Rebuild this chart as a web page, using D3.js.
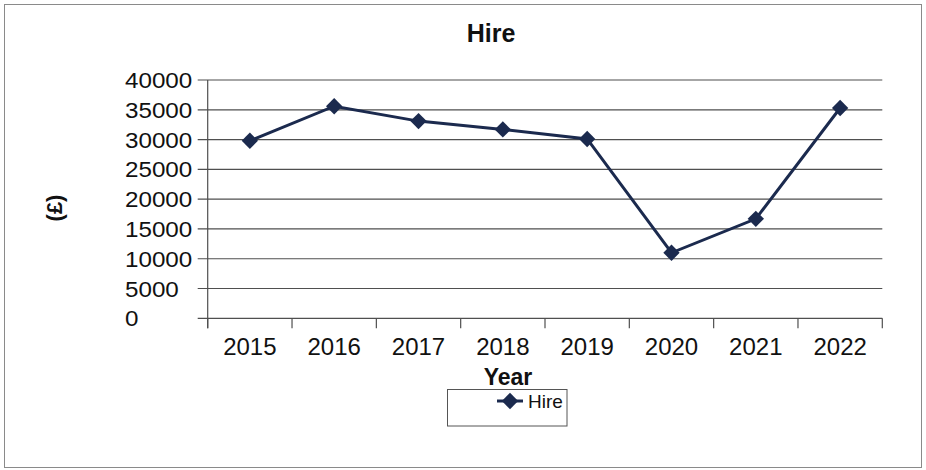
<!DOCTYPE html>
<html>
<head>
<meta charset="utf-8">
<script src="https://cdn.jsdelivr.net/npm/d3@7"></script>
<style>
  html, body { margin: 0; padding: 0; background: #fff; }
  svg { display: block; }
  text { font-family: "Liberation Sans", Arial, sans-serif; fill: #111; }
</style>
</head>
<body>
<svg id="chart" width="926" height="470"></svg>
<script>
// Yearly hire income
const years = ["2015", "2016", "2017", "2018", "2019", "2020", "2021", "2022"];
const hire = [29800, 35600, 33100, 31700, 30100, 11000, 16700, 35300];
const yTicks = [0, 5000, 10000, 15000, 20000, 25000, 30000, 35000, 40000];

const svg = d3.select("#chart");
const plot = { left: 207.7, right: 882.3, top: 80, bottom: 318.3 };

// outer frame
svg.append("rect")
  .attr("x", 4.5).attr("y", 4.5)
  .attr("width", 917).attr("height", 463)
  .attr("fill", "#fff").attr("stroke", "#8a8a8a").attr("stroke-width", 1);

const x = d3.scaleBand().domain(years).range([plot.left, plot.right]);
const y = d3.scaleLinear().domain([0, 40000]).range([plot.bottom, plot.top]);

// horizontal gridlines with short ticks to the left
svg.append("g").selectAll("line")
  .data(yTicks)
  .join("line")
  .attr("x1", plot.left - 10).attr("x2", plot.right)
  .attr("y1", d => y(d)).attr("y2", d => y(d))
  .attr("stroke", "#4f4f4f").attr("stroke-width", 1.2);

// y axis line
svg.append("line")
  .attr("x1", plot.left).attr("x2", plot.left)
  .attr("y1", plot.top).attr("y2", plot.bottom + 10)
  .attr("stroke", "#4f4f4f").attr("stroke-width", 1.2);

// x axis category boundary ticks
const edges = years.map(d => x(d)).concat([x(years[years.length - 1]) + x.bandwidth()]);
svg.append("g").selectAll("line")
  .data(edges)
  .join("line")
  .attr("x1", d => d).attr("x2", d => d)
  .attr("y1", plot.bottom).attr("y2", plot.bottom + 10)
  .attr("stroke", "#4f4f4f").attr("stroke-width", 1.2);

// y tick labels (left aligned, slightly wide glyphs)
svg.append("g").selectAll("text")
  .data(yTicks)
  .join("text")
  .attr("transform", d => `translate(125,${y(d) + 8}) scale(1.1,1)`)
  .attr("font-size", 22)
  .text(d => d);

// x tick labels
svg.append("g").selectAll("text")
  .data(years)
  .join("text")
  .attr("x", d => x(d) + x.bandwidth() / 2)
  .attr("y", 355)
  .attr("text-anchor", "middle")
  .attr("font-size", 24)
  .text(d => d);

// series line
const pts = years.map((d, i) => [x(d) + x.bandwidth() / 2, y(hire[i])]);
svg.append("path")
  .attr("d", d3.line()(pts))
  .attr("fill", "none")
  .attr("stroke", "#1b2a4e")
  .attr("stroke-width", 3);

// diamond markers
const diamond = d3.symbol().type(d3.symbolDiamond2).size(170);
svg.append("g").selectAll("path")
  .data(pts)
  .join("path")
  .attr("transform", d => `translate(${d[0]},${d[1]})`)
  .attr("d", diamond)
  .attr("fill", "#1b2a4e");

// title and axis titles
svg.append("text")
  .attr("x", 491).attr("y", 42)
  .attr("text-anchor", "middle")
  .attr("font-size", 25).attr("font-weight", "bold")
  .text("Hire");

svg.append("text")
  .attr("x", 508).attr("y", 385)
  .attr("text-anchor", "middle")
  .attr("font-size", 23).attr("font-weight", "bold")
  .text("Year");

svg.append("text")
  .attr("transform", "translate(62,208) rotate(-90)")
  .attr("text-anchor", "middle")
  .attr("font-size", 22).attr("font-weight", "bold")
  .text("(£)");

// legend
const lg = svg.append("g");
lg.append("rect")
  .attr("x", 447.5).attr("y", 389.5)
  .attr("width", 119.5).attr("height", 36.5)
  .attr("fill", "#fff").attr("stroke", "#555").attr("stroke-width", 1);
lg.append("line")
  .attr("x1", 497).attr("x2", 523)
  .attr("y1", 401).attr("y2", 401)
  .attr("stroke", "#1b2a4e").attr("stroke-width", 3);
lg.append("path")
  .attr("transform", "translate(510,401)")
  .attr("d", diamond)
  .attr("fill", "#1b2a4e");
lg.append("text")
  .attr("x", 528).attr("y", 408)
  .attr("font-size", 19)
  .text("Hire");
</script>
</body>
</html>
